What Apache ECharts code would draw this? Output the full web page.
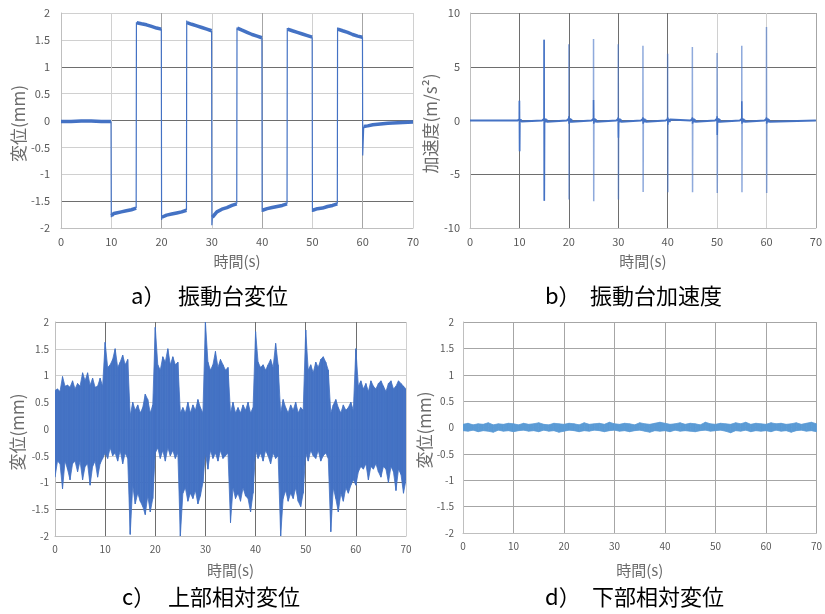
<!DOCTYPE html>
<html><head><meta charset="utf-8">
<script src="https://cdn.jsdelivr.net/npm/echarts/dist/echarts.min.js"></script>
<style>html,body{margin:0;padding:0;background:#fff}#c{width:825px;height:614px}</style>
</head><body><div id="c"></div>
<script>
// ---------- a) 振動台変位 : plateau segments [time, mm]
const stageSegments = [
  [[0,-0.02],[2,-0.02],[4,-0.01],[6,-0.01],[8,-0.02],[9.95,-0.02]],
  [[10.05,-1.77],[10.5,-1.73],[11,-1.72],[12,-1.70],[13,-1.68],[14,-1.66],[14.95,-1.63]],
  [[15.05,1.82],[16,1.80],[17,1.78],[18,1.75],[19,1.72],[19.95,1.70]],
  [[20.05,-1.80],[21,-1.76],[22,-1.74],[23,-1.72],[24,-1.70],[24.95,-1.67]],
  [[25.05,1.82],[26,1.79],[27,1.76],[28,1.73],[29,1.70],[29.95,1.67]],
  [[30.1,-1.80],[31,-1.70],[32,-1.65],[33,-1.62],[34,-1.58],[34.95,-1.55]],
  [[35.05,1.72],[36,1.68],[37,1.64],[38,1.60],[39,1.57],[39.95,1.54]],
  [[40.05,-1.67],[41,-1.64],[42,-1.62],[43,-1.60],[44,-1.58],[44.95,-1.55]],
  [[45.05,1.70],[46,1.67],[47,1.64],[48,1.61],[49,1.58],[49.95,1.55]],
  [[50.05,-1.67],[51,-1.64],[52,-1.63],[53,-1.60],[54,-1.58],[54.95,-1.55]],
  [[55.05,1.70],[56,1.67],[57,1.64],[58,1.60],[59,1.57],[59.95,1.55]],
  [[60.2,-0.11],[61,-0.10],[62,-0.08],[63,-0.07],[64,-0.06],[65,-0.05],[67,-0.04],[70,-0.03]]
];
const stageSwitchTimes = [10, 15, 20, 25, 30, 35, 40, 45, 50, 55, 60];
const stageSwitchPeaks = [-1.80, 1.83, -1.85, 1.86, -1.95, 1.73, -1.70, 1.72, -1.70, 1.73, -0.65];

// ---------- b) 振動台加速度 : spikes (m/s2)
const accTimes   = [10, 15, 20, 25, 30, 35, 40, 45, 50, 55, 60];
const accMax     = [1.84, 7.52, 7.10, 7.58, 7.10, 6.96, 6.20, 6.84, 6.28, 6.96, 8.70];
const accMin     = [-2.87, -7.46, -7.36, -7.52, -7.36, -6.65, -6.68, -6.68, -6.74, -6.68, -6.74];
const accCoreMax = [1.84, 7.52, 0.40, 1.90, 0.30, 0.30, 0.30, 0.30, 0.40, 1.80, 0.30];
const accCoreMin = [-2.87, -7.46, -0.30, -0.30, -1.60, -0.30, -0.40, -0.30, -1.35, -0.30, -0.30];
const accRing    = [0.10, 0.18, 0.20, 0.18, 0.18, 0.18, 0.15, 0.18, 0.20, 0.18, 0.18];

// ---------- c) 上部相対変位 : envelope every 0.5 s (mm)
const upperTopEnv = [
  0.72,0.75,0.70,0.98,0.80,0.82,0.78,0.90,0.75,0.85,0.80,1.05,0.90,1.05,0.82,0.95,0.78,0.80,0.95,0.80,
  1.62,1.15,1.20,1.30,1.50,1.15,1.25,1.38,1.20,1.30,
  0.25,0.50,0.35,0.45,0.30,0.40,0.65,0.55,0.30,0.45,
  1.90,1.20,1.10,1.35,1.25,1.50,1.20,1.35,1.20,1.25,
  0.30,0.40,0.30,0.50,0.30,0.45,0.35,0.55,0.40,0.30,
  2.00,1.25,1.10,1.20,1.45,1.15,1.30,1.20,1.10,1.15,
  0.30,0.50,0.30,0.40,0.30,0.45,0.35,0.50,0.30,0.40,
  1.82,1.25,1.15,1.20,1.10,1.20,1.30,1.15,1.60,1.20,
  0.30,0.55,0.40,0.30,0.45,0.35,0.50,0.30,0.40,0.35,
  1.85,1.10,1.20,1.05,1.25,1.15,1.30,1.35,1.25,1.10,
  0.30,0.45,0.55,0.40,0.30,0.45,0.35,0.40,0.50,0.35,
  1.50,0.80,0.90,0.75,0.85,0.70,0.90,0.80,0.75,0.85,0.90,0.80,0.70,0.85,0.90,0.75,0.80,0.90,0.85,0.80,0.75
];
const upperBottomEnv = [
  -0.90,-0.60,-0.65,-1.12,-0.60,-0.75,-0.95,-0.65,-0.60,-0.80,-0.60,-0.95,-0.70,-0.65,-1.05,-0.70,-0.60,-0.90,-0.65,-0.55,
  -0.45,-0.55,-0.35,-0.50,-0.45,-0.60,-0.40,-0.65,-0.45,-0.55,
  -1.97,-1.05,-1.40,-1.20,-1.35,-1.45,-1.60,-1.25,-1.55,-1.30,
  -0.45,-0.35,-0.55,-0.40,-0.60,-0.35,-0.50,-0.40,-0.55,-0.45,
  -2.00,-1.20,-1.10,-1.35,-1.20,-1.30,-1.15,-1.40,-1.25,-1.00,
  -0.45,-0.75,-0.40,-0.55,-0.45,-0.60,-0.40,-0.55,-0.50,-0.45,
  -1.75,-1.10,-1.30,-1.20,-1.35,-1.10,-1.25,-1.30,-1.55,-1.20,
  -0.40,-0.55,-0.45,-0.60,-0.40,-0.50,-0.65,-0.45,-0.55,-0.50,
  -2.00,-1.30,-1.15,-1.35,-1.20,-1.30,-1.10,-1.35,-1.45,-1.20,
  -0.45,-0.60,-0.40,-0.50,-0.55,-0.40,-0.60,-0.50,-0.45,-0.55,
  -1.92,-1.10,-1.30,-1.55,-1.20,-1.35,-1.10,-1.20,-1.05,-0.95,
  -1.05,-0.80,-0.70,-0.75,-0.65,-0.95,-0.70,-0.75,-0.65,-0.80,-0.90,-0.70,-0.75,-1.00,-0.70,-0.80,-1.15,-0.75,-0.85,-1.20,-0.95
];

// ---------- d) 下部相対変位 : envelope every 1 s (mm)
const lowerTopEnv = [
  0.06,0.08,0.05,0.07,0.06,0.09,0.05,0.07,0.06,0.08,
  0.07,0.05,0.08,0.06,0.07,0.09,0.06,0.05,0.08,0.07,
  0.06,0.08,0.07,0.05,0.09,0.06,0.07,0.08,0.06,0.10,
  0.07,0.06,0.08,0.07,0.05,0.09,0.07,0.06,0.08,0.10,
  0.08,0.06,0.07,0.09,0.06,0.08,0.07,0.05,0.10,0.07,
  0.06,0.08,0.07,0.06,0.09,0.07,0.10,0.06,0.08,0.07,
  0.06,0.09,0.07,0.08,0.06,0.07,0.09,0.06,0.08,0.10,0.07
];
const lowerBottomEnv = [
  -0.06,-0.07,-0.05,-0.08,-0.06,-0.07,-0.09,-0.05,-0.07,-0.06,
  -0.08,-0.06,-0.05,-0.07,-0.06,-0.08,-0.05,-0.07,-0.06,-0.09,
  -0.07,-0.05,-0.06,-0.08,-0.06,-0.07,-0.05,-0.06,-0.08,-0.06,
  -0.05,-0.07,-0.06,-0.08,-0.06,-0.05,-0.07,-0.09,-0.06,-0.07,
  -0.06,-0.08,-0.05,-0.07,-0.06,-0.07,-0.08,-0.06,-0.05,-0.07,
  -0.06,-0.05,-0.07,-0.10,-0.06,-0.07,-0.05,-0.08,-0.06,-0.07,
  -0.06,-0.08,-0.05,-0.07,-0.06,-0.09,-0.06,-0.05,-0.07,-0.06,-0.08
];

const xTickStep = 10;
const titles = [
  ['a）', '振動台変位'], ['b）', '振動台加速度'], ['c）', '上部相対変位'], ['d）', '下部相対変位']
];

// ---------------- build series data ----------------
const stagePlateau = [];
stageSegments.forEach((s, i) => { if (i) stagePlateau.push([s[0][0] - 0.01, null]); s.forEach(p => stagePlateau.push(p)); });
const stageSwitch = [];
stageSwitchTimes.forEach((t, i) => {
  const prev = stageSegments[i], next = stageSegments[i + 1];
  stageSwitch.push(prev[prev.length - 1], [t, stageSwitchPeaks[i]], next[0], [t + 0.3, null]);
});

const accLight = [], accCore = [], accBase = [[0, 0]];
accTimes.forEach((t, i) => {
  accLight.push([t - 0.01, 0], [t, accMax[i]], [t + 0.04, accMin[i]], [t + 0.08, 0], [t + 0.1, null]);
  accCore.push([t - 0.01, 0], [t, accCoreMax[i]], [t + 0.04, accCoreMin[i]], [t + 0.08, 0], [t + 0.1, null]);
  const r = accRing[i];
  accBase.push([t - 0.4, 0], [t + 0.1, r], [t + 0.2, -r], [t + 0.3, r], [t + 0.4, -r], [t + 0.5, r * 0.6], [t + 0.6, -r * 0.6], [t + 0.8, 0]);
});
accBase.push([70, 0]);

// envelope band drawn piecewise through the axes' coordinate system
function envelopeSeries(gi, up, lo, step, color) {
  const rows = up.map((v, i) => [i * step, v, lo[i]]);
  return {
    type: 'custom', xAxisIndex: gi, yAxisIndex: gi, data: rows, encode: { x: 0, y: [1, 2] },
    clip: true,
    renderItem: (params, api) => {
      const i = params.dataIndex;
      if (i >= rows.length - 1) return;
      const a = rows[i], b = rows[i + 1];
      const pts = [api.coord([a[0], a[1]]), api.coord([b[0], b[1]]), api.coord([b[0], b[2]]), api.coord([a[0], a[2]])];
      return { type: 'polygon', shape: { points: pts }, style: { fill: color, stroke: color, lineWidth: 0.8 } };
    }
  };
}

// ---------------- chart ----------------
const FONT = '"Noto Sans CJK JP", "Noto Sans", sans-serif';
const TXT = '#595959';
const L = '#D0D0D0', M = '#A6A6A6', D = '#6E6E6E';

const grids = [
  { left: 61, top: 13, width: 352, height: 215 },
  { left: 470, top: 13, width: 353, height: 215 },
  { left: 55, top: 322, width: 351, height: 214 },
  { left: 463, top: 322, width: 360, height: 211 }
];

function xAx(gi, nameGap, colors, fs) {
  return {
    gridIndex: gi, type: 'value', min: 0, max: 70, interval: xTickStep,
    name: '時間(s)', nameLocation: 'middle', nameGap,
    nameTextStyle: { fontSize: 15, color: '#6B6B6B', fontFamily: FONT },
    axisLine: { onZero: false, lineStyle: { color: '#BFBFBF' } },
    axisTick: { show: false },
    axisLabel: { fontSize: fs, color: TXT, margin: 8, fontFamily: FONT },
    splitLine: { show: true, showMinLine: true, showMaxLine: true, lineStyle: { color: colors, width: 1 } }
  };
}
function yAx(gi, min, max, interval, name, nameGap, colors, fs, margin, shift) {
  return {
    gridIndex: gi, type: 'value', min, max, interval,
    name, nameLocation: 'middle', nameGap, nameRotate: 90,
    nameTextStyle: { fontSize: 17, color: '#6B6B6B', fontFamily: FONT, padding: [0, shift, 0, 0] },
    axisLine: { show: true, lineStyle: { color: '#BFBFBF' } },
    axisTick: { show: false },
    axisLabel: { fontSize: fs, color: TXT, margin, fontFamily: FONT },
    splitLine: { show: true, showMinLine: true, showMaxLine: true, lineStyle: { color: colors, width: 1 } }
  };
}

const graphic = [];
const titlePos = [[131, 297, 178], [545, 297, 590], [122, 598, 168], [545, 598, 592]];
titles.forEach((t, i) => {
  const p = titlePos[i];
  graphic.push({ type: 'text', left: p[0], top: p[1] - 12, style: { text: t[0], font: '22px ' + FONT, fill: '#000' } });
  graphic.push({ type: 'text', left: p[2], top: p[1] - 12, style: { text: t[1], font: '22px ' + FONT, fill: '#000' } });
});

const option = {
  animation: false,
  backgroundColor: '#fff',
  grid: grids,
  graphic,
  xAxis: [
    xAx(0, 26, [L, L, M, L, M, L, M, L], 11),
    xAx(1, 26, [M, D, D, D, D, L, L, M], 11),
    xAx(2, 27, [M, D, D, D, D, D, D, L], 10),
    xAx(3, 30, [M, M, M, M, M, M, M, M], 10)
  ],
  yAxis: [
    yAx(0, -2, 2, 0.5, '変位(mm)', 33, [L, D, L, L, D, L, D, L, L], 11, 11, 6),
    yAx(1, -10, 10, 5, '加速度(m/s²)', 31, [M, D, D, D, M], 11, 10, 6),
    yAx(2, -2, 2, 0.5, '変位(mm)', 29, [M, D, D, L, L, L, L, L, M], 10, 6, 6),
    yAx(3, -2, 2, 0.5, '変位(mm)', 26, [M, M, M, M, M, M, M, M, M], 10, 9, 5)
  ],
  series: [
    { type: 'line', xAxisIndex: 0, yAxisIndex: 0, data: stageSwitch, showSymbol: false, symbol: 'none',
      lineStyle: { color: '#4472C4', width: 1.2 }, connectNulls: false },
    { type: 'line', xAxisIndex: 0, yAxisIndex: 0, data: stagePlateau, showSymbol: false, symbol: 'none',
      lineStyle: { color: '#4472C4', width: 3.5 }, connectNulls: false },
    { type: 'line', xAxisIndex: 1, yAxisIndex: 1, data: accLight, showSymbol: false, symbol: 'none',
      lineStyle: { color: 'rgba(68,114,196,0.6)', width: 1.5 } },
    { type: 'line', xAxisIndex: 1, yAxisIndex: 1, data: accCore, showSymbol: false, symbol: 'none',
      lineStyle: { color: '#4472C4', width: 1.5 } },
    { type: 'line', xAxisIndex: 1, yAxisIndex: 1, data: accBase, showSymbol: false, symbol: 'none',
      lineStyle: { color: '#4472C4', width: 2 } },
    envelopeSeries(2, upperTopEnv, upperBottomEnv, 0.5, '#4472C4'),
    envelopeSeries(3, lowerTopEnv, lowerBottomEnv, 1, '#5B9BD5')
  ]
};
const chart = echarts.init(document.getElementById('c'), null, { renderer: 'canvas' });
chart.setOption(option);
</script></body></html>
